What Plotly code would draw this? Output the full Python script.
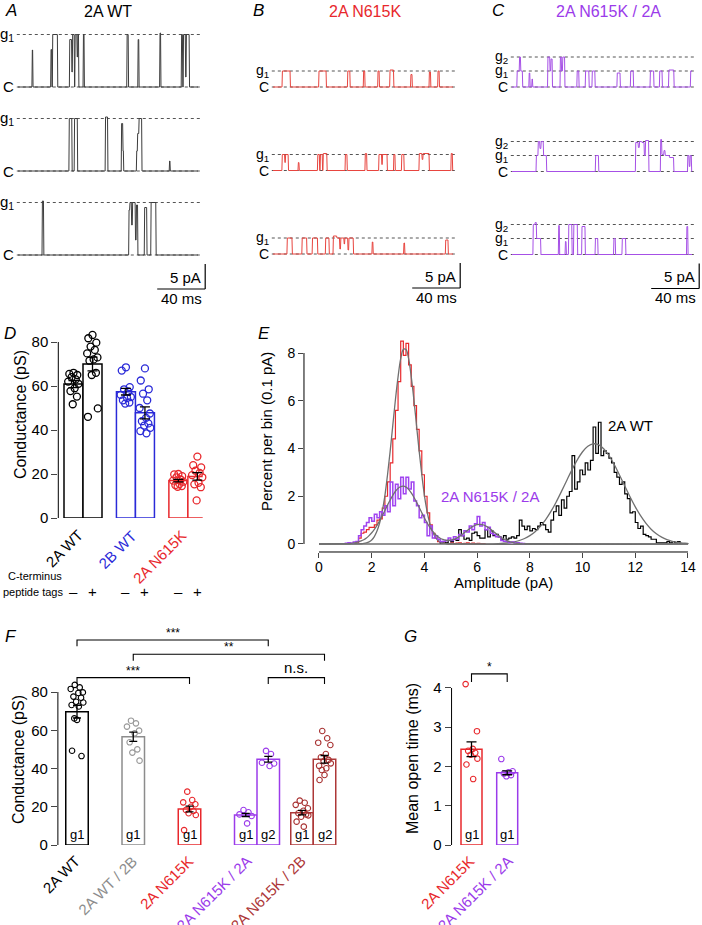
import plotly.graph_objects as go

W, H = 702, 925

# ============================ DATA ============================
# --- Panels A-C: single-channel records, each row = list of (time ms, current pA) level changes
rec_len_ms = 150.0
rec_2A_WT = [
    [(11.6, 7.4), (12.2, 0), (27.2, 7.5), (28.0, 0), (28.6, 10.5), (32.8, 0), (42.8, 9.5), (44.6, 3.0),
     (45.2, 10.5), (46.8, 0), (47.3, 10.5), (49.0, 6.0), (49.6, 10.5), (50.4, 0), (54.2, 10.5), (55.0, 0),
     (90.6, 10.5), (91.8, 0), (99.8, 9.5), (100.6, 0), (118.0, 10.8), (118.8, 0), (136.0, 10.5), (137.0, 0),
     (137.6, 10.5), (139.4, 2.0), (140.0, 10.5), (142.6, 0)],
    [(42.4, 10.5), (44.8, 0), (46.8, 10.5), (49.4, 0), (72.6, 10.8), (74.6, 0), (86.0, 9.5), (87.2, 4.0),
     (87.8, 0), (98.6, 4.0), (99.4, 7.5), (100.6, 10.5), (103.0, 0), (126.0, 2.0), (126.6, 0)],
    [(20.0, 10.8), (21.2, 0), (92.2, 9.0), (93.0, 10.5), (94.4, 6.0), (95.2, 10.5), (97.6, 3.0),
     (98.4, 10.0), (99.6, 0), (105.2, 9.5), (107.2, 0), (110.6, 10.5), (114.8, 0)],
]
rec_2A_N615K = [
    [(7.5, 3.2), (14.2, 0), (38.0, 3.2), (44.2, 0), (62.0, 3.2), (64.0, 0), (75.2, 3.2), (76.4, 0),
     (87.2, 3.2), (88.4, 0), (97.2, 3.4), (100.4, 0), (114.6, 2.5), (115.8, 0), (130.0, 3.0), (131.2, 0),
     (137.2, 3.2), (138.4, 0)],
    [(7.4, 3.2), (9.6, 1.6), (10.2, 3.2), (12.6, 0), (20.8, 1.6), (21.6, 0), (37.0, 3.2), (38.6, 0),
     (39.2, 3.2), (41.0, 0), (41.6, 3.4), (44.8, 0), (60.0, 3.2), (61.6, 0), (76.6, 3.4), (78.0, 0),
     (88.0, 3.2), (90.4, 1.2), (91.0, 3.2), (95.0, 0), (100.4, 3.2), (101.6, 0), (107.0, 3.2), (109.0, 0),
     (121.6, 3.4), (124.0, 2.2), (124.8, 3.4), (130.0, 0), (148.2, 3.4), (149.4, 0)],
    [(11.6, 3.2), (15.8, 0), (24.0, 3.2), (28.0, 0), (32.6, 3.2), (37.0, 0), (43.6, 3.2), (46.6, 0),
     (50.0, 3.6), (53.0, 3.2), (55.4, 1.0), (56.2, 3.2), (59.0, 2.0), (59.6, 3.2), (62.2, 0.8), (63.0, 3.2),
     (66.8, 0), (82.4, 2.4), (83.2, 0), (108.8, 2.2), (109.6, 0), (143.6, 2.8), (145.8, 0)],
]
rec_N615K_2A = [
    [(4.0, 3.2), (6.0, 6.0), (7.0, 3.2), (8.6, 0), (14.0, 2.8), (14.8, 0), (16.4, 1.6), (17.0, 0),
     (29.6, 6.0), (31.4, 3.2), (32.2, 5.6), (33.4, 0), (40.0, 6.0), (41.0, 3.2), (42.0, 6.0), (43.8, 0),
     (54.0, 3.2), (55.6, 0), (61.0, 3.2), (64.0, 0), (66.6, 3.2), (69.0, 0), (87.4, 2.8), (90.0, 0),
     (98.6, 3.2), (101.0, 0), (115.0, 3.2), (118.0, 0), (122.8, 3.2), (125.0, 0), (130.4, 3.4), (134.8, 0),
     (148.6, 3.2)],
    [(20.0, 3.2), (21.6, 6.0), (23.0, 4.6), (24.0, 6.0), (26.0, 3.2), (28.6, 0), (69.4, 3.2), (72.0, 0),
     (102.8, 5.8), (105.0, 4.8), (106.0, 6.0), (108.0, 5.8), (110.0, 3.2), (111.0, 6.2), (113.8, 0),
     (123.6, 6.4), (124.6, 3.4), (126.4, 4.2), (127.4, 3.2), (131.0, 2.8), (134.6, 0), (146.2, 3.2),
     (147.4, 1.0), (148.2, 3.2), (149.4, 0)],
    [(17.4, 6.0), (19.0, 6.4), (20.2, 3.2), (23.8, 0), (38.6, 5.8), (39.4, 0), (44.2, 2.6), (45.0, 0),
     (47.0, 6.0), (49.8, 0), (51.2, 6.0), (54.4, 0), (58.0, 5.6), (60.8, 0), (69.2, 3.2), (71.4, 0),
     (84.6, 3.2), (86.0, 0), (91.6, 3.2), (94.6, 0), (145.4, 5.6), (146.4, 0)],
]
lv_2A_WT = [0.0, 10.5]
lv_2A_N615K = [0.0, 3.2]
lv_N615K_2A = [0.0, 3.2, 6.0]
lv_names_2 = ["C", "g<sub>1</sub>"]
lv_names_3 = ["C", "g<sub>1</sub>", "g<sub>2</sub>"]
scale_pA = 5
scale_ms = 40

# --- Panel D
D_groups = ["2A WT", "2B WT", "2A N615K"]
D_tags = ["\u2013", "+"]
D_mean = [60.9, 70.0, 57.4, 47.8, 17.0, 18.9]
D_sem = [1.6, 3.1, 1.5, 2.7, 0.6, 1.7]
D_points = [
    [66.0, 65.5, 65.0, 64.0, 63.0, 62.0, 61.0, 59.0, 57.7, 55.2, 51.7],
    [83.2, 81.7, 79.7, 77.9, 76.4, 74.8, 73.0, 72.1, 71.5, 66.0, 65.0, 49.8, 46.0],
    [68.5, 67.0, 59.5, 58.5, 57.5, 56.0, 55.0, 54.5, 53.5, 52.5, 52.0],
    [68.0, 62.5, 58.5, 56.5, 53.5, 50.0, 47.5, 45.5, 44.0, 43.0, 42.0, 41.0, 39.5, 38.5],
    [20.0, 19.8, 19.0, 18.5, 17.5, 17.0, 16.5, 15.5, 15.0, 14.5, 14.2],
    [27.9, 24.0, 23.0, 21.5, 20.5, 19.5, 18.5, 16.0, 15.3, 14.0, 8.0],
]

# --- Panel E: amplitude histograms (percent per 0.1 pA bin) and fitted curves
E_red_start = 1.4
E_red = [0.05, 0.25, 0.45, 0.5, 0.6, 0.7, 0.7, 0.8, 1.0, 1.05, 1.5, 2.0, 2.6, 3.4, 4.4, 5.6, 6.8, 8.5,
         7.9, 8.4, 7.5, 6.6, 5.8, 4.8, 3.9, 2.9, 2.0, 1.3, 0.8, 0.45, 0.25, 0.1, 0.05, 0.05, 0.03, 0.0,
         0.05, 0.02, 0.04, 0.05, 0.02, 0.03, 0.05, 0.02, 0.04, 0.02, 0.03, 0.02, 0.02]
E_purple_start = 1.0
E_purple = [0.03, 0.05, 0.03, 0.08, 0.1, 0.35, 0.6, 0.75, 0.9, 1.1, 0.95, 1.25, 1.1, 1.35, 1.2, 1.6, 1.35,
            2.6, 1.6, 2.5, 1.9, 2.8, 2.1, 2.8, 2.3, 2.6, 1.8, 1.6, 1.1, 1.2, 0.9, 0.35, 0.75, 0.25, 0.35,
            0.2, 0.1, 0.12, 0.15, 0.25, 0.15, 0.3, 0.2, 0.4, 0.35, 0.55, 0.5, 0.75, 0.6, 0.85, 1.15, 0.75,
            0.9, 0.6, 0.7, 0.45, 0.4, 0.3, 0.3, 0.15, 0.12, 0.1, 0.06, 0.08, 0.04, 0.05, 0.03, 0.02]
E_black_start = 4.6
E_black = [0.05, 0.1, 0.05, 0.15, 0.1, 0.2, 0.15, 0.6, 0.35, 0.2, 0.25, 0.15, 0.45, 0.5, 0.35, 0.25, 0.25,
           0.6, 0.3, 0.55, 0.35, 0.4, 0.3, 0.2, 0.35, 0.2, 0.25, 0.3, 0.25, 0.35, 1.0, 0.75, 0.6, 0.75,
           0.55, 0.65, 0.6, 0.75, 0.9, 0.8, 0.6, 0.5, 1.0, 1.35, 1.6, 1.2, 1.85, 1.5, 2.0, 2.2, 3.7, 2.3,
           2.6, 3.1, 2.9, 3.4, 3.1, 3.5, 4.9, 3.8, 5.1, 3.7, 3.9, 3.8, 3.6, 3.4, 3.0, 2.8, 2.5, 2.6, 2.1,
           1.9, 1.3, 1.35, 0.9, 0.65, 0.75, 0.4, 0.35, 0.3, 0.2, 0.2, 0.05, 0.05, 0.05, 0.05, 0.1, 0.05,
           0.1, 0.05, 0.1]
E_fit_red_start, E_fit_red_step = 1.4, 0.1
E_fit_red = [0.002, 0.004, 0.01, 0.022, 0.046, 0.091, 0.17, 0.31, 0.54, 0.88, 1.37, 2.03, 2.9, 3.89, 4.97,
             6.05, 7.0, 7.76, 8.15, 8.15, 7.76, 7.0, 6.05, 4.97, 3.89, 2.9, 2.03, 1.37, 0.88, 0.54, 0.31,
             0.17, 0.091, 0.046, 0.022, 0.01]
E_fit_purple_start, E_fit_purple_step = 1.0, 0.1
E_fit_purple = [0.01, 0.01, 0.02, 0.04, 0.06, 0.09, 0.13, 0.18, 0.25, 0.35, 0.47, 0.61, 0.78, 0.97, 1.18,
                1.40, 1.63, 1.84, 2.04, 2.21, 2.33, 2.40, 2.42, 2.38, 2.29, 2.14, 1.96, 1.76, 1.54, 1.31,
                1.09, 0.89, 0.71, 0.55, 0.42, 0.31, 0.24, 0.19, 0.16, 0.15, 0.16, 0.19, 0.23, 0.30, 0.37,
                0.46, 0.54, 0.63, 0.71, 0.77, 0.81, 0.82, 0.81, 0.77, 0.71, 0.63, 0.54, 0.45, 0.37, 0.29,
                0.22, 0.16, 0.11, 0.08, 0.05, 0.03, 0.02, 0.01, 0.01]
E_fit_black_start, E_fit_black_step = 6.0, 0.2
E_fit_black = [0.001, 0.002, 0.005, 0.009, 0.017, 0.031, 0.053, 0.090, 0.147, 0.231, 0.352, 0.518, 0.739,
               1.021, 1.364, 1.761, 2.203, 2.662, 3.116, 3.527, 3.863, 4.093, 4.196, 4.161, 3.993, 3.707,
               3.329, 2.893, 2.433, 1.978, 1.557, 1.185, 0.872, 0.621, 0.428, 0.286, 0.184, 0.115, 0.070,
               0.041, 0.023]
E_labels = ["2A N615K", "2A N615K / 2A", "2A WT"]

# --- Panel F
F_labels = ["2A WT", "2A WT / 2B", "2A N615K", "2A N615K / 2A", "2A N615K / 2B"]
F_bar_group = [0, 1, 2, 3, 3, 4, 4]
F_bar_state = ["g1", "g1", "g1", "g1", "g2", "g1", "g2"]
F_mean = [69.7, 56.6, 18.8, 15.7, 44.8, 16.9, 44.8]
F_sem = [3.3, 2.4, 1.5, 0.8, 1.5, 1.2, 2.0]
F_points = [
    [83.7, 82.4, 81.6, 79.8, 79.5, 77.6, 77.0, 74.9, 74.5, 73.2, 72.4, 66.2, 65.4, 49.3, 46.5],
    [65.0, 63.6, 61.9, 59.8, 58.4, 53.7, 50.0, 48.3, 44.1],
    [27.9, 23.5, 22.3, 21.3, 20.0, 18.3, 17.8, 16.6, 15.7, 7.8],
    [18.3, 17.1, 16.0, 15.2, 11.3],
    [49.2, 47.6, 43.0, 42.6, 41.3],
    [23.2, 22.1, 21.0, 19.2, 17.9, 16.6, 16.0, 14.8, 15.5, 12.2, 9.6],
    [59.6, 55.8, 53.5, 52.3, 47.6, 45.9, 44.5, 43.8, 42.7, 41.4, 40.1, 39.2, 36.6, 34.0],
]
F_sig = [("***", 0, 4), ("**", 1, 6), ("***", 0, 2), ("n.s.", 4, 6)]

# --- Panel G
G_labels = ["2A N615K", "2A N615K / 2A"]
G_mean = [2.44, 1.84]
G_sem = [0.19, 0.05]
G_points = [[4.1, 2.9, 2.45, 2.4, 2.35, 2.3, 2.2, 2.05, 1.68],
            [2.19, 1.88, 1.85, 1.82, 1.78, 1.75]]
G_sig = [("*", 0, 1)]

# ============================ STYLE / LAYOUT ============================
RED = "#e8282c"
BLUE = "#2a2ad8"
PURPLE = "#9b3bea"
DRED = "#ad3838"
GRAY = "#8c8c8c"
FONT = "Liberation Sans, Arial, sans-serif"
JIT = [0.0, -0.22, 0.2, -0.1, 0.12, -0.28, 0.26, 0.06, -0.16, 0.18, -0.04, 0.28, -0.24, 0.08, -0.12]

fig = go.Figure()
layout = dict(width=W, height=H, margin=dict(l=0, r=0, t=0, b=0, pad=0, autoexpand=False),
              paper_bgcolor="white", plot_bgcolor="rgba(0,0,0,0)", showlegend=False, barmode="overlay",
              font=dict(family=FONT, size=14, color="black"))
shapes, annots = [], []


def ids(n):
    return ("x" if n == 1 else f"x{n}"), ("y" if n == 1 else f"y{n}")


def add_axes(n, xr, yr, xpx, ypx, xkw=None, ykw=None):
    xa, ya = ids(n)
    base = dict(showgrid=False, zeroline=False, showline=False, fixedrange=True, automargin=False)
    xd = dict(base, domain=[max(0, xpx[0] / W), min(1, xpx[1] / W)], range=xr, anchor=ya)
    yd = dict(base, domain=[max(0, 1 - ypx[1] / H), min(1, 1 - ypx[0] / H)], range=yr, anchor=xa)
    xd.update(xkw or {})
    yd.update(ykw or {})
    layout["xaxis" if n == 1 else f"xaxis{n}"] = xd
    layout["yaxis" if n == 1 else f"yaxis{n}"] = yd
    return xa, ya


def paper_text(text, x, y, size=14, color="black", xanchor="center", angle=0, italic=False, yanchor="middle"):
    t = f"<i>{text}</i>" if italic else text
    annots.append(dict(xref="paper", yref="paper", x=x / W, y=1 - y / H, text=t, showarrow=False,
                       xanchor=xanchor, yanchor=yanchor, textangle=angle,
                       font=dict(size=size, color=color, family=FONT)))


def slanted_labels(xa, xs, texts, colors, top_px, shifts, size=15):
    for x, t, c, s in zip(xs, texts, colors, shifts):
        annots.append(dict(xref=xa, yref="paper", x=x, y=1 - top_px / H, xshift=s, text=t, showarrow=False,
                           textangle=-45, xanchor="right", yanchor="top",
                           font=dict(size=size, color=c, family=FONT)))


def step_path(changes, t_end, ramp=0.35):
    xs, ys, cur = [0.0], [0.0], 0.0
    for t, lvl in changes:
        xs += [t, t + ramp]
        ys += [cur, lvl]
        cur = lvl
    xs.append(t_end)
    ys.append(cur)
    return xs, ys


# ---------------- Panels A-C ----------------
MS_PX, PA_PX = 1.2, 5.0
trace_panels = [
    dict(rec=rec_2A_WT, lv=lv_2A_WT, names=lv_names_2, color="#3c3c3c", x0=18, c=[87, 171, 255], fs=15),
    dict(rec=rec_2A_N615K, lv=lv_2A_N615K, names=lv_names_2, color="#e8453f", x0=273, c=[87, 170.5, 254], fs=14),
    dict(rec=rec_N615K_2A, lv=lv_N615K_2A, names=lv_names_3, color="#a650e6", x0=512, c=[87, 171.5, 254.5], fs=14),
]
n = 0
for p in trace_panels:
    for r, (chg, c) in enumerate(zip(p["rec"], p["c"])):
        n += 1
        xr, yr = [-4, 157.5], [-10, 12.5]
        xa, ya = add_axes(n, xr, yr, [p["x0"] + xr[0] * MS_PX, p["x0"] + xr[1] * MS_PX],
                          [c - yr[1] * PA_PX, c - yr[0] * PA_PX], dict(visible=False), dict(visible=False))
        for name, lvl in zip(p["names"], p["lv"]):
            shapes.append(dict(type="line", xref=xa, yref=ya, x0=-1, x1=153, y0=lvl, y1=lvl, layer="below",
                               line=dict(color="#555555", width=1, dash="dot")))
            annots.append(dict(xref=xa, yref=ya, x=-1.5, y=lvl, text=name, showarrow=False, xanchor="right",
                               yanchor="middle", font=dict(size=p["fs"], family=FONT)))
        xs, ys = step_path(chg, rec_len_ms)
        fig.add_trace(go.Scatter(x=xs, y=ys, mode="lines", line=dict(color=p["color"], width=1),
                                 xaxis=xa, yaxis=ya, hoverinfo="skip"))
        if r == len(p["rec"]) - 1:
            xe, ytop = 156, -1.8
            shapes.append(dict(type="line", xref=xa, yref=ya, x0=xe, x1=xe, y0=ytop, y1=ytop - scale_pA,
                               line=dict(color="black", width=1.2)))
            shapes.append(dict(type="line", xref=xa, yref=ya, x0=xe - scale_ms, x1=xe, y0=ytop - scale_pA,
                               y1=ytop - scale_pA, line=dict(color="black", width=1.2)))
            annots.append(dict(xref=xa, yref=ya, x=xe - 1.5, y=-4.4, text=f"{scale_pA} pA", showarrow=False,
                               xanchor="right", font=dict(size=15, family=FONT)))
            annots.append(dict(xref=xa, yref=ya, x=xe - scale_ms / 2, y=-8.6, text=f"{scale_ms} ms",
                               showarrow=False, xanchor="center", font=dict(size=15, family=FONT)))

paper_text("A", 3, 10, size=17, italic=True, xanchor="left")
paper_text("B", 251, 10, size=17, italic=True, xanchor="left")
paper_text("C", 490, 10, size=17, italic=True, xanchor="left")
paper_text("2A WT", 108, 12, size=16)
paper_text("2A N615K", 365, 12, size=16, color=RED)
paper_text("2A N615K / 2A", 608, 12, size=16, color=PURPLE)

# ---------------- Panel D ----------------
D_cols = ["black", BLUE, RED]
D_gap = 2.76
D_pos = [g * D_gap + o for g in range(3) for o in (-0.5, 0.5)]
D_barcol = [D_cols[i // 2] for i in range(6)]
xa, ya = add_axes(10, [-1.3, 6.3], [0, 88], [83 - 1.3 * 19, 83 + 6.3 * 19], [518 - 88 * 2.2, 518],
                  dict(showticklabels=False, ticks=""),
                  dict(tickvals=[0, 20, 40, 60, 80], ticks="outside", ticklen=6, tickwidth=1,
                       tickfont=dict(size=15)))
shapes.append(dict(type="line", xref="x10 domain", yref=ya, x0=0, x1=0, y0=0, y1=80,
                   line=dict(color="black", width=1)))
fig.add_trace(go.Bar(x=D_pos, y=D_mean, width=1.0, marker=dict(color="white", line=dict(color=D_barcol, width=1.5)),
                     xaxis=xa, yaxis=ya, hoverinfo="skip"))
for i, pts in enumerate(D_points):
    fig.add_trace(go.Scatter(x=[D_pos[i] + JIT[k % len(JIT)] for k in range(len(pts))], y=pts, mode="markers",
                             marker=dict(symbol="circle-open", size=7, color=D_barcol[i], line=dict(width=1.3)),
                             cliponaxis=False, xaxis=xa, yaxis=ya, hoverinfo="skip"))
fig.add_trace(go.Scatter(x=D_pos, y=D_mean, mode="markers", marker=dict(size=1, color="rgba(0,0,0,0)"),
                         error_y=dict(type="data", array=D_sem, color="black", thickness=1.3, width=5),
                         xaxis=xa, yaxis=ya, hoverinfo="skip"))
slanted_labels(xa, [g * D_gap for g in range(3)], D_groups, D_cols, 524, [6, 7, 5])
for i, x in enumerate(D_pos):
    annots.append(dict(xref=xa, yref="paper", x=x, y=1 - 591 / H, text=D_tags[i % 2], showarrow=False,
                       font=dict(size=15, family=FONT)))
paper_text("C-terminus", 64, 576, size=11, xanchor="right")
paper_text("peptide tags", 65, 592, size=11, xanchor="right")
paper_text("D", 2, 333, size=17, italic=True, xanchor="left")
paper_text("Conductance (pS)", 20, 415, size=16, angle=-90)

# ---------------- Panel E ----------------
EXP, EYP = 26.357, 23.875
xa, ya = add_axes(11, [-0.57, 14.1], [-0.335, 9.0], [319 - 0.57 * EXP, 319 + 14.1 * EXP],
                  [544 - 9.0 * EYP, 544 + 0.335 * EYP],
                  dict(tickvals=list(range(0, 15, 2)), ticks="outside", ticklen=5, tickfont=dict(size=14),
                       ticklabelstandoff=-3),
                  dict(tickvals=[0, 2, 4, 6, 8], ticks="outside", ticklen=5, tickfont=dict(size=14)))
shapes.append(dict(type="line", xref=xa, yref="y11 domain", x0=0, x1=14, y0=0, y1=0,
                   line=dict(color="black", width=1)))
shapes.append(dict(type="line", xref="x11 domain", yref=ya, x0=0, x1=0, y0=0, y1=8,
                   line=dict(color="black", width=1)))


def hist_xy(start, vals):
    xs = [round(start, 2)] + [round(start + 0.1 * i, 2) for i in range(len(vals))] + [round(start + 0.1 * len(vals), 2)]
    ys = [0.0] + list(vals) + [0.0]
    return xs, ys


def fit_xy(start, step, vals):
    xs = [0.0] + [round(start + step * i, 2) for i in range(len(vals))] + [14.0]
    ys = [0.0] + list(vals) + [0.0]
    return xs, ys


for start, vals, col, w in [(E_red_start, E_red, RED, 1.2), (E_black_start, E_black, "black", 1.2)]:
    hx, hy = hist_xy(start, vals)
    fig.add_trace(go.Scatter(x=hx, y=hy, mode="lines", line=dict(color=col, width=w, shape="hv"),
                             xaxis=xa, yaxis=ya, hoverinfo="skip"))
for start, step, vals in [(E_fit_red_start, E_fit_red_step, E_fit_red),
                          (E_fit_black_start, E_fit_black_step, E_fit_black)]:
    fx, fy = fit_xy(start, step, vals)
    fig.add_trace(go.Scatter(x=fx, y=fy, mode="lines", line=dict(color="#707070", width=1.3, shape="spline"),
                             xaxis=xa, yaxis=ya, hoverinfo="skip"))
hx, hy = hist_xy(E_purple_start, E_purple)
fig.add_trace(go.Scatter(x=hx, y=hy, mode="lines", line=dict(color="#a043f0", width=1.5, shape="hv"),
                         xaxis=xa, yaxis=ya, hoverinfo="skip"))
fx, fy = fit_xy(E_fit_purple_start, E_fit_purple_step, E_fit_purple)
fig.add_trace(go.Scatter(x=fx, y=fy, mode="lines", line=dict(color="#707070", width=1.3, shape="spline"),
                         xaxis=xa, yaxis=ya, hoverinfo="skip"))
for txt, x, y, col in [(E_labels[0], 3.11, 9.05, RED), (E_labels[1], 6.49, 1.97, PURPLE),
                       (E_labels[2], 11.8, 4.98, "black")]:
    annots.append(dict(xref=xa, yref=ya, x=x, y=y, text=txt, showarrow=False,
                       font=dict(size=15, color=col, family=FONT)))
paper_text("E", 256, 333, size=17, italic=True, xanchor="left")
paper_text("Percent per bin (0.1 pA)", 266, 432, size=15, angle=-90)
paper_text("Amplitude (pA)", 503, 582, size=15)

# ---------------- Panel F ----------------
F_cols = ["black", GRAY, RED, PURPLE, DRED]
F_pos = [0, 2.5, 5, 7.5, 8.5, 10, 11]
F_ticks = [0, 2.5, 5, 8.0, 10.5]
F_barcol = [F_cols[g] for g in F_bar_group]
F_ptcol = ["black", "#999999", RED, PURPLE, PURPLE, "#a83232", "#a83232"]
FU, FY = 22.5, 1.9125
xa, ya = add_axes(12, [-0.85, 11.7], [0, 115], [77 - 0.85 * FU, 77 + 11.7 * FU], [845 - 115 * FY, 845],
                  dict(showticklabels=False, ticks=""),
                  dict(tickvals=[0, 20, 40, 60, 80], ticks="outside", ticklen=6, tickwidth=1,
                       tickfont=dict(size=15)))
shapes.append(dict(type="line", xref="x12 domain", yref=ya, x0=0, x1=0, y0=0, y1=80,
                   line=dict(color="black", width=1)))
fig.add_trace(go.Bar(x=F_pos, y=F_mean, width=1.0, marker=dict(color="white", line=dict(color=F_barcol, width=1.5)),
                     xaxis=xa, yaxis=ya, hoverinfo="skip"))
for i, pts in enumerate(F_points):
    fig.add_trace(go.Scatter(x=[F_pos[i] + JIT[(k + 3) % len(JIT)] for k in range(len(pts))], y=pts,
                             mode="markers",
                             marker=dict(symbol="circle-open", size=5.5, color=F_ptcol[i], line=dict(width=1.1)),
                             cliponaxis=False, xaxis=xa, yaxis=ya, hoverinfo="skip"))
fig.add_trace(go.Scatter(x=F_pos, y=F_mean, mode="markers", marker=dict(size=1, color="rgba(0,0,0,0)"),
                         error_y=dict(type="data", array=F_sem, color="black", thickness=1.3, width=4),
                         xaxis=xa, yaxis=ya, hoverinfo="skip"))
for i, s in enumerate(F_bar_state):
    annots.append(dict(xref=xa, yref=ya, x=F_pos[i], y=0, yshift=1, text=s, showarrow=False, yanchor="bottom",
                       font=dict(size=13, family=FONT)))
slanted_labels(xa, F_ticks, F_labels, F_cols, 850, [9, 10, 10, 0, -2])
F_sig_y = [107.2, 99.7, 87.5, 87.5]
for (txt, i, j), yb in zip(F_sig, F_sig_y):
    x0, x1 = F_pos[i], F_pos[j]
    shapes.append(dict(type="path", xref=xa, yref=ya,
                       path=f"M {x0},{yb - 3.3} L {x0},{yb} L {x1},{yb} L {x1},{yb - 3.3}",
                       line=dict(color="black", width=1.1)))
    star = txt.startswith("*")
    annots.append(dict(xref=xa, yref=ya, x=(x0 + x1) / 2, y=yb, text=txt, showarrow=False, yanchor="bottom",
                       yshift=(-2 if star else 0), font=dict(size=(12 if star else 15), family=FONT)))
paper_text("F", 3, 636, size=17, italic=True, xanchor="left")
paper_text("Conductance (pS)", 18, 760, size=16, angle=-90)

# ---------------- Panel G ----------------
G_cols = [RED, PURPLE]
G_pos = [0, 1.7]
GU, GY = 21.0, 39.25
xa, ya = add_axes(13, [-0.95, 2.4], [0, 4.7], [471.5 - 0.95 * GU, 471.5 + 2.4 * GU], [845 - 4.7 * GY, 845],
                  dict(showticklabels=False, ticks=""),
                  dict(tickvals=[0, 1, 2, 3, 4], ticks="outside", ticklen=6, tickwidth=1,
                       tickfont=dict(size=15)))
shapes.append(dict(type="line", xref="x13 domain", yref=ya, x0=0, x1=0, y0=0, y1=4,
                   line=dict(color="black", width=1)))
fig.add_trace(go.Bar(x=G_pos, y=G_mean, width=1.0, marker=dict(color="white", line=dict(color=G_cols, width=1.5)),
                     xaxis=xa, yaxis=ya, hoverinfo="skip"))
for i, pts in enumerate(G_points):
    fig.add_trace(go.Scatter(x=[G_pos[i] + JIT[(k + 5) % len(JIT)] for k in range(len(pts))], y=pts,
                             mode="markers",
                             marker=dict(symbol="circle-open", size=5.5, color=G_cols[i], line=dict(width=1.1)),
                             cliponaxis=False, xaxis=xa, yaxis=ya, hoverinfo="skip"))
fig.add_trace(go.Scatter(x=G_pos, y=G_mean, mode="markers", marker=dict(size=1, color="rgba(0,0,0,0)"),
                         error_y=dict(type="data", array=G_sem, color="black", thickness=1.3, width=5),
                         xaxis=xa, yaxis=ya, hoverinfo="skip"))
for i in range(len(G_pos)):
    annots.append(dict(xref=xa, yref=ya, x=G_pos[i], y=0, yshift=1, text="g1", showarrow=False, yanchor="bottom",
                       font=dict(size=13, family=FONT)))
slanted_labels(xa, G_pos, G_labels, G_cols, 850, [9, 11])
for txt, i, j in G_sig:
    x0, x1, yb = G_pos[i], G_pos[j], 4.36
    shapes.append(dict(type="path", xref=xa, yref=ya,
                       path=f"M {x0},{yb - 0.21} L {x0},{yb} L {x1},{yb} L {x1},{yb - 0.21}",
                       line=dict(color="black", width=1.1)))
    annots.append(dict(xref=xa, yref=ya, x=(x0 + x1) / 2, y=yb, text=txt, showarrow=False, yanchor="bottom",
                       yshift=-2, font=dict(size=12, family=FONT)))
paper_text("G", 402, 636, size=17, italic=True, xanchor="left")
paper_text("Mean open time (ms)", 412, 758, size=16, angle=-90)

layout["shapes"] = shapes
layout["annotations"] = annots
fig.update_layout(**layout)
fig.write_html("out.html", config={"displayModeBar": False, "staticPlot": True},
               post_script="document.body.style.margin='0';document.body.style.overflow='hidden';")
